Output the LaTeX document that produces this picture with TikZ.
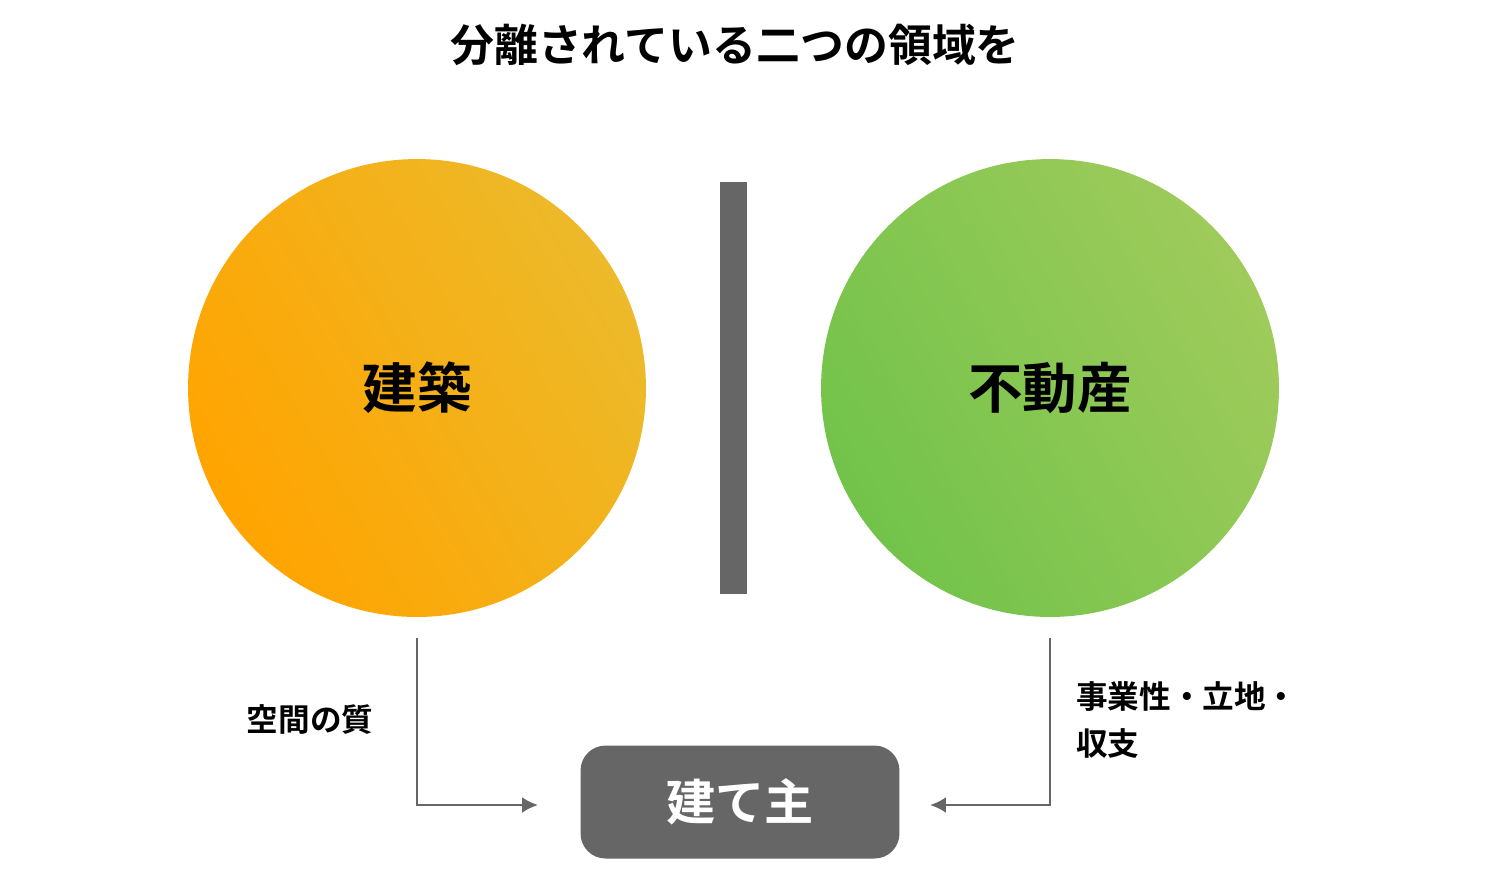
\documentclass[tikz,border=0pt]{standalone}
\usepackage{fontspec}
\setmainfont{Noto Sans CJK JP}[BoldFont={Noto Sans CJK JP Bold}]
\usetikzlibrary{positioning,arrows.meta}
\definecolor{orangeA}{HTML}{ECBA2A}
\definecolor{orangeB}{HTML}{FFA400}
\definecolor{greenA}{HTML}{9FCB5B}
\definecolor{greenB}{HTML}{72C34A}
\definecolor{darkgrey}{HTML}{666666}
\begin{document}
\begin{tikzpicture}[x=0.02cm, y=-0.02cm, font=\bfseries,
    field/.style={circle, minimum size=9.16cm, inner sep=0pt, font=\bfseries\fontsize{31}{31}\selectfont},
    label/.style={font=\bfseries\fontsize{18}{27}\selectfont, align=left},
    flow/.style={darkgrey, line width=1.5pt, -{Latex[length=9pt,width=9pt]}}]
    \useasboundingbox (0,0) rectangle (1500,877);
    \node (title) at (735,45) {\fontsize{25}{25}\selectfont 分離されている二つの領域を};
    \node[field, left color=orangeA, right color=orangeB, shading angle=-60] (arch) at (417,388) {建築};
    \node[field, left color=greenA, right color=greenB, shading angle=-60] (estate) at (1050,388) {不動産};
    \fill[darkgrey] (720,182) rectangle (747,594);
    \node[fill=darkgrey, rounded corners=0.5cm, minimum width=6.38cm, minimum height=2.26cm,
          text=white, font=\bfseries\fontsize{28}{28}\selectfont] (client) at (740,802) {建て主};
    \coordinate (a1) at (417,638);
    \coordinate (a2) at (538,805);
    \coordinate (b1) at (1050,638);
    \coordinate (b2) at (930,805);
    \draw[flow] (a1) |- (a2);
    \draw[flow] (b1) |- (b2);
    \node[label] (quality) at (310,720) {空間の質};
    \node[label, anchor=north west] (business) at (1070,675) {事業性・立地・\\収支};
\end{tikzpicture}
\end{document}
